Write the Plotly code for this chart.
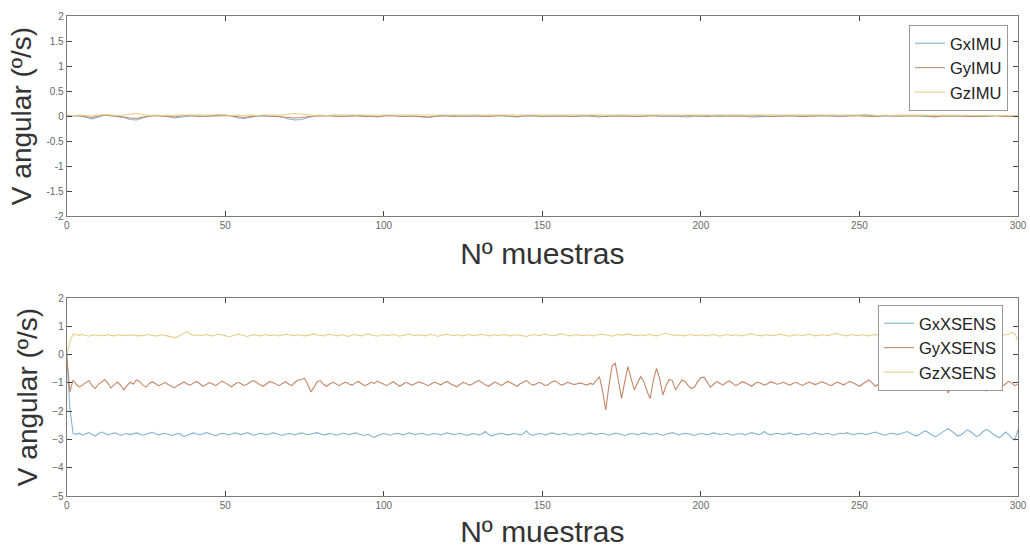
import plotly.graph_objects as go

# ---------------- DATA ----------------
x_ticks = [0, 50, 100, 150, 200, 250, 300]
y_ticks_top = [-2, -1.5, -1, -0.5, 0, 0.5, 1, 1.5, 2]
y_ticks_top_text = ["-2", "-1.5", "-1", "-0.5", "0", "0.5", "1", "1.5", "2"]
y_ticks_bot = [-5, -4, -3, -2, -1, 0, 1, 2]

imu_step = 2  # IMU samples read every 2 units of "Nº muestras"

gx_imu = [0.01, 0.00, 0.01, -0.02, -0.06, -0.02, 0.02, 0.00, -0.01, -0.03, -0.07, -0.08, -0.04, 0.00, 0.01, 0.00, -0.01, -0.04, -0.02, 0.00,
          0.01, 0.00, -0.01, 0.00, 0.01, 0.02, 0.00, -0.04, -0.05, -0.02, 0.00, 0.00, -0.01, 0.00, -0.02, -0.06, -0.08, -0.07, -0.03, 0.00,
          0.01, 0.00, 0.01, 0.00, -0.01, 0.00, 0.01, 0.00, -0.01, -0.02, 0.00, 0.01, 0.00, -0.01, 0.00, 0.00, -0.02, -0.03, -0.01, 0.00,
          0.00, 0.01, 0.00, -0.01, 0.00, 0.00, -0.01, 0.00, 0.01, 0.00, -0.01, -0.02, 0.00, 0.00, 0.01, 0.00, -0.01, 0.00, 0.00, -0.01,
          0.00, 0.01, 0.00, -0.01, -0.02, 0.00, 0.00, 0.01, 0.00, -0.01, 0.00, 0.00, 0.01, 0.00, -0.01, 0.00, 0.00, -0.01, -0.02, 0.00,
          0.00, 0.01, 0.00, -0.01, 0.00, 0.00, 0.01, 0.00, -0.02, -0.01, 0.00, 0.00, -0.01, 0.00, 0.01, 0.00, 0.00, -0.01, 0.00, 0.00,
          0.01, 0.00, -0.01, 0.00, 0.00, 0.01, 0.02, 0.00, -0.01, 0.00, 0.00, -0.01, 0.00, 0.01, 0.00, 0.00, -0.01, -0.02, 0.00, 0.00,
          0.01, 0.00, -0.01, 0.00, 0.00, -0.01, 0.00, 0.01, 0.00, -0.01, 0.00]

gy_imu = [0.00, 0.01, 0.00, -0.01, -0.03, 0.00, 0.02, 0.01, 0.00, -0.02, -0.04, -0.05, -0.02, 0.00, 0.01, 0.00, -0.01, -0.02, 0.00, 0.01,
          0.00, -0.01, 0.00, 0.01, 0.00, 0.01, 0.00, -0.02, -0.03, -0.01, 0.00, 0.01, 0.00, -0.01, -0.01, -0.03, -0.04, -0.03, -0.01, 0.00,
          0.00, 0.01, 0.00, -0.01, 0.00, 0.01, 0.00, -0.01, 0.00, -0.01, 0.00, 0.01, 0.00, 0.00, -0.01, 0.00, -0.01, -0.02, 0.00, 0.01,
          0.00, -0.01, 0.00, 0.00, 0.01, 0.00, -0.01, 0.00, 0.00, 0.01, 0.00, -0.01, 0.00, 0.01, 0.00, -0.01, 0.00, 0.00, 0.01, 0.00,
          -0.01, 0.00, 0.00, 0.01, 0.00, -0.01, 0.00, 0.00, 0.01, 0.00, -0.01, 0.00, 0.00, 0.01, 0.00, 0.00, -0.01, 0.00, 0.01, 0.00,
          0.00, -0.01, 0.00, 0.01, 0.00, 0.00, -0.01, 0.00, 0.00, 0.01, 0.00, -0.01, 0.00, 0.00, 0.01, 0.00, -0.01, 0.00, 0.00, 0.01,
          0.00, 0.00, -0.01, 0.00, 0.01, 0.00, 0.00, -0.01, 0.00, 0.01, 0.00, 0.00, -0.01, 0.00, 0.00, 0.01, 0.00, -0.01, 0.00, 0.00,
          0.01, 0.00, 0.00, -0.01, 0.00, 0.00, 0.01, 0.00, -0.01, 0.00, 0.00]

gz_imu = [0.02, 0.01, 0.02, 0.01, 0.00, 0.02, 0.03, 0.02, 0.01, 0.02, 0.04, 0.05, 0.03, 0.01, 0.02, 0.01, 0.02, 0.01, 0.02, 0.02,
          0.01, 0.02, 0.01, 0.02, 0.03, 0.02, 0.01, 0.02, 0.01, 0.02, 0.01, 0.02, 0.02, 0.01, 0.02, 0.04, 0.05, 0.04, 0.02, 0.01,
          0.02, 0.01, 0.02, 0.02, 0.01, 0.02, 0.01, 0.02, 0.01, 0.02, 0.02, 0.01, 0.02, 0.01, 0.02, 0.02, 0.01, 0.02, 0.01, 0.02,
          0.01, 0.02, 0.02, 0.01, 0.02, 0.01, 0.02, 0.02, 0.01, 0.02, 0.01, 0.02, 0.02, 0.01, 0.02, 0.02, 0.01, 0.02, 0.01, 0.02,
          0.02, 0.01, 0.02, 0.01, 0.02, 0.02, 0.01, 0.02, 0.01, 0.02, 0.02, 0.01, 0.02, 0.02, 0.01, 0.02, 0.01, 0.02, 0.02, 0.01,
          0.02, 0.01, 0.02, 0.02, 0.01, 0.02, 0.01, 0.02, 0.02, 0.01, 0.02, 0.01, 0.02, 0.02, 0.01, 0.02, 0.01, 0.02, 0.02, 0.01,
          0.02, 0.02, 0.01, 0.02, 0.01, 0.02, 0.03, 0.02, 0.01, 0.02, 0.01, 0.02, 0.02, 0.01, 0.02, 0.01, 0.02, 0.02, 0.01, 0.02,
          0.01, 0.02, 0.02, 0.01, 0.02, 0.01, 0.02, 0.02, 0.01, 0.02, 0.01]

gx_xsens = [0.00, -1.90, -2.78, -2.82, -2.78, -2.85, -2.80, -2.76, -2.83, -2.88, -2.80, -2.74, -2.78, -2.84, -2.81, -2.77, -2.80, -2.86, -2.82, -2.79,
            -2.83, -2.80, -2.77, -2.81, -2.85, -2.82, -2.78, -2.75, -2.80, -2.84, -2.81, -2.78, -2.82, -2.86, -2.83, -2.79, -2.82, -2.90, -2.85, -2.80,
            -2.77, -2.81, -2.84, -2.80, -2.76, -2.79, -2.83, -2.87, -2.82, -2.78, -2.80, -2.84, -2.81, -2.77, -2.80, -2.83, -2.79, -2.76, -2.81, -2.85,
            -2.82, -2.78, -2.80, -2.84, -2.81, -2.77, -2.79, -2.83, -2.86, -2.82, -2.79, -2.81, -2.84, -2.80, -2.77, -2.80, -2.83, -2.81, -2.78, -2.76,
            -2.80, -2.84, -2.82, -2.79, -2.81, -2.85, -2.82, -2.78, -2.80, -2.83, -2.80, -2.77, -2.81, -2.84, -2.86, -2.82, -2.89, -2.93, -2.86, -2.82,
            -2.79, -2.82, -2.85, -2.81, -2.78, -2.80, -2.84, -2.81, -2.77, -2.80, -2.83, -2.80, -2.78, -2.82, -2.85, -2.82, -2.79, -2.81, -2.84, -2.80,
            -2.77, -2.80, -2.83, -2.81, -2.78, -2.82, -2.86, -2.83, -2.79, -2.81, -2.84, -2.80, -2.72, -2.82, -2.88, -2.83, -2.80, -2.78, -2.81, -2.84,
            -2.82, -2.79, -2.81, -2.84, -2.80, -2.70, -2.82, -2.86, -2.82, -2.79, -2.81, -2.84, -2.80, -2.77, -2.80, -2.83, -2.81, -2.78, -2.82, -2.85,
            -2.82, -2.79, -2.81, -2.84, -2.80, -2.77, -2.80, -2.83, -2.80, -2.78, -2.82, -2.85, -2.81, -2.78, -2.80, -2.83, -2.86, -2.82, -2.79, -2.81,
            -2.84, -2.80, -2.77, -2.80, -2.83, -2.81, -2.78, -2.82, -2.85, -2.82, -2.79, -2.76, -2.80, -2.84, -2.81, -2.78, -2.80, -2.83, -2.86, -2.82,
            -2.79, -2.81, -2.84, -2.80, -2.77, -2.80, -2.83, -2.81, -2.78, -2.82, -2.85, -2.82, -2.79, -2.81, -2.84, -2.80, -2.76, -2.79, -2.83, -2.81,
            -2.72, -2.80, -2.84, -2.81, -2.78, -2.80, -2.83, -2.80, -2.77, -2.81, -2.84, -2.82, -2.79, -2.81, -2.84, -2.80, -2.77, -2.80, -2.83, -2.81,
            -2.78, -2.82, -2.85, -2.81, -2.78, -2.80, -2.76, -2.80, -2.84, -2.81, -2.78, -2.80, -2.83, -2.80, -2.77, -2.74, -2.78, -2.82, -2.85, -2.81,
            -2.78, -2.80, -2.83, -2.80, -2.76, -2.72, -2.78, -2.84, -2.88, -2.82, -2.74, -2.70, -2.78, -2.86, -2.90, -2.84, -2.76, -2.68, -2.62, -2.70,
            -2.80, -2.88, -2.84, -2.74, -2.66, -2.72, -2.82, -2.90, -2.84, -2.72, -2.65, -2.70, -2.80, -2.88, -2.94, -2.86, -2.74, -2.82, -2.95, -3.02,
            -2.66]

gy_xsens = [0.00, -1.32, -0.90, -1.05, -1.15, -1.08, -0.98, -0.92, -1.10, -1.20, -1.05, -0.95, -0.88, -1.02, -1.18, -1.06, -0.97, -1.08, -1.25, -1.10,
            -0.98, -1.04, -0.90, -0.95, -1.08, -1.15, -1.03, -0.96, -1.02, -1.10, -1.05, -0.98, -1.06, -1.12, -1.18, -1.09, -1.02, -0.97, -1.04, -1.08,
            -1.00, -0.95, -1.03, -1.12, -1.06, -0.99, -1.04, -1.10, -1.02, -0.94, -1.00, -1.08, -1.14, -1.05, -0.98, -1.03, -1.09, -1.04, -0.96, -0.92,
            -1.00, -1.07, -1.12, -1.03, -0.95, -0.99, -1.06, -1.10, -1.02, -0.96, -1.04, -1.10, -0.98, -0.90, -0.88, -0.84, -1.05, -1.32, -1.15, -0.96,
            -0.92, -1.05, -1.12, -1.03, -0.98, -1.05, -1.10, -1.02, -0.97, -1.04, -1.08, -1.00, -0.95, -1.03, -1.10, -1.05, -0.98, -1.02, -0.94, -1.00,
            -1.06, -1.10, -1.02, -0.96, -1.04, -1.12, -1.05, -0.98, -1.03, -1.08, -1.02, -0.96, -1.00, -1.05, -1.10, -1.03, -0.97, -1.02, -1.07, -1.00,
            -0.95, -1.03, -1.09, -1.14, -1.06, -0.98, -1.02, -1.08, -1.04, -0.96, -0.92, -1.00, -1.07, -1.12, -1.04, -0.97, -1.02, -1.09, -1.03, -0.95,
            -1.00, -1.06, -1.12, -1.03, -0.96, -0.92, -1.02, -1.08, -1.04, -0.98, -1.03, -1.10, -1.05, -0.97, -0.93, -1.01, -1.08, -1.04, -0.98, -1.02,
            -1.06, -1.03, -1.00, -1.04, -1.08, -1.02, -1.05, -0.92, -0.78, -1.30, -1.96, -1.10, -0.40, -0.31, -0.95, -1.55, -0.95, -0.43, -0.85, -1.25,
            -1.00, -0.78, -0.95, -1.30, -1.55, -0.90, -0.49, -0.85, -1.43, -1.10, -0.88, -0.92, -1.25, -1.05, -0.90, -0.95, -1.10, -1.20, -1.15, -0.95,
            -0.82, -0.80, -1.00, -1.15, -1.05, -0.95, -1.02, -1.08, -0.98, -0.93, -1.02, -1.10, -1.04, -0.96, -1.00, -1.06, -1.12, -1.03, -0.97, -1.02,
            -1.08, -1.03, -0.96, -1.00, -1.05, -1.02, -0.97, -1.03, -1.08, -1.02, -0.98, -1.04, -1.09, -1.03, -0.97, -1.01, -1.06, -1.02, -0.96, -1.00,
            -1.05, -1.10, -1.03, -0.97, -1.02, -1.07, -1.01, -0.95, -1.00, -1.06, -1.12, -1.04, -0.96, -0.90, -1.00, -1.12, -1.05, -0.92, -0.88, -1.02,
            -1.15, -1.08, -0.95, -0.90, -1.05, -1.20, -1.10, -0.94, -0.88, -1.00, -1.18, -1.12, -0.98, -1.28, -1.05, -0.90, -0.86, -1.02, -1.36, -1.10,
            -0.92, -0.88, -1.05, -1.25, -1.10, -0.95, -0.90, -1.00, -1.15, -1.05, -1.30, -1.08, -0.92, -0.88, -1.00, -1.12, -1.05, -0.95, -1.00, -1.10,
            -1.05]

gz_xsens = [0.00, 0.45, 0.72, 0.70, 0.68, 0.71, 0.67, 0.65, 0.68, 0.70, 0.66, 0.69, 0.67, 0.71, 0.68, 0.66, 0.70, 0.68, 0.67, 0.69,
            0.68, 0.70, 0.66, 0.68, 0.67, 0.69, 0.71, 0.68, 0.66, 0.67, 0.70, 0.68, 0.66, 0.64, 0.60, 0.63, 0.70, 0.74, 0.82, 0.72,
            0.68, 0.70, 0.67, 0.69, 0.71, 0.68, 0.66, 0.70, 0.72, 0.69, 0.67, 0.62, 0.66, 0.70, 0.72, 0.69, 0.67, 0.64, 0.68, 0.70,
            0.68, 0.66, 0.69, 0.71, 0.67, 0.68, 0.70, 0.66, 0.69, 0.72, 0.70, 0.68, 0.67, 0.70, 0.69, 0.66, 0.68, 0.71, 0.73, 0.69,
            0.68, 0.66, 0.70, 0.72, 0.69, 0.66, 0.68, 0.70, 0.67, 0.64, 0.69, 0.71, 0.68, 0.66, 0.70, 0.73, 0.69, 0.67, 0.65, 0.69,
            0.70, 0.67, 0.69, 0.71, 0.68, 0.65, 0.68, 0.70, 0.72, 0.69, 0.67, 0.70, 0.68, 0.66, 0.69, 0.71, 0.68, 0.64, 0.68, 0.70,
            0.72, 0.69, 0.67, 0.70, 0.68, 0.66, 0.69, 0.71, 0.68, 0.67, 0.70, 0.72, 0.69, 0.66, 0.68, 0.70, 0.67, 0.69, 0.71, 0.68,
            0.66, 0.69, 0.70, 0.68, 0.67, 0.64, 0.68, 0.70, 0.69, 0.67, 0.70, 0.72, 0.69, 0.67, 0.68, 0.70, 0.74, 0.70, 0.68, 0.66,
            0.69, 0.71, 0.68, 0.67, 0.70, 0.68, 0.66, 0.69, 0.70, 0.72, 0.70, 0.67, 0.65, 0.69, 0.71, 0.68, 0.70, 0.73, 0.70, 0.67,
            0.68, 0.70, 0.67, 0.69, 0.71, 0.68, 0.66, 0.69, 0.72, 0.76, 0.71, 0.68, 0.67, 0.70, 0.68, 0.66, 0.69, 0.71, 0.68, 0.67,
            0.70, 0.68, 0.66, 0.69, 0.71, 0.68, 0.65, 0.68, 0.71, 0.69, 0.67, 0.70, 0.68, 0.66, 0.69, 0.71, 0.74, 0.70, 0.68, 0.66,
            0.69, 0.70, 0.68, 0.67, 0.70, 0.72, 0.69, 0.67, 0.65, 0.68, 0.70, 0.69, 0.67, 0.70, 0.72, 0.69, 0.66, 0.68, 0.70, 0.69,
            0.67, 0.70, 0.72, 0.75, 0.70, 0.68, 0.66, 0.69, 0.71, 0.68, 0.67, 0.70, 0.68, 0.66, 0.69, 0.71, 0.68, 0.67, 0.70, 0.72,
            0.69, 0.67, 0.70, 0.68, 0.66, 0.69, 0.71, 0.68, 0.67, 0.70, 0.72, 0.69, 0.67, 0.68, 0.70, 0.69, 0.67, 0.70, 0.68, 0.66,
            0.69, 0.71, 0.68, 0.67, 0.70, 0.72, 0.69, 0.67, 0.68, 0.70, 0.69, 0.67, 0.70, 0.71, 0.69, 0.68, 0.70, 0.72, 0.78, 0.74,
            0.50]

# ---------------- STYLE ----------------
C_X = "#82b3cf"
C_Y = "#c38767"
C_Z = "#e5cf88"
FONT = "Liberation Sans, Arial, sans-serif"
AX_LINE = "#7a7a7a"
TICK_FONT = dict(family=FONT, size=10, color="#666666")
YTITLE_FONT = dict(family=FONT, size=28, color="#333333")
XTITLE_FONT = dict(family=FONT, size=30, color="#333333")

x_imu = [i * imu_step for i in range(len(gx_imu))]
x_xs = list(range(len(gx_xsens)))

fig = go.Figure()
for name, ys, col in [("GxIMU", gx_imu, C_X), ("GyIMU", gy_imu, C_Y), ("GzIMU", gz_imu, C_Z)]:
    fig.add_trace(go.Scatter(x=x_imu, y=ys, mode="lines", name=name,
                             line=dict(color=col, width=1.1), xaxis="x", yaxis="y", legend="legend"))
for name, ys, col in [("GxXSENS", gx_xsens, C_X), ("GyXSENS", gy_xsens, C_Y), ("GzXSENS", gz_xsens, C_Z)]:
    fig.add_trace(go.Scatter(x=x_xs, y=ys, mode="lines", name=name,
                             line=dict(color=col, width=1.1), xaxis="x2", yaxis="y2", legend="legend2"))

W, H = 1030, 548
x_dom = [66.7 / W, 1018 / W]
top_dom = [(H - 216) / H, (H - 16) / H]
bot_dom = [(H - 496) / H, (H - 298) / H]

common_x = dict(range=[0, 300], tickvals=x_ticks, ticks="inside", ticklen=5, tickcolor="#444",
                showline=True, linecolor=AX_LINE, linewidth=1, mirror="ticks", showgrid=False,
                zeroline=False, tickfont=TICK_FONT, automargin=False, domain=x_dom)
common_y = dict(ticks="inside", ticklen=5, tickcolor="#444", showline=True, linecolor=AX_LINE,
                linewidth=1, mirror="ticks", showgrid=False, zeroline=False, tickfont=TICK_FONT,
                automargin=False)

legend_style = dict(font=dict(family=FONT, size=16.5, color="#222222"), bgcolor="white",
                    bordercolor="#999999", borderwidth=1, xanchor="left", yanchor="top",
                    tracegroupgap=0, itemwidth=30)

fig.update_layout(
    width=W, height=H,
    margin=dict(l=0, r=0, t=0, b=0),
    paper_bgcolor="white", plot_bgcolor="white",
    font=dict(family=FONT),
    xaxis=dict(**common_x, anchor="y",
               title=dict(text="Nº muestras", font=XTITLE_FONT, standoff=12)),
    yaxis=dict(**common_y, domain=top_dom, anchor="x", range=[-2, 2],
               tickvals=y_ticks_top, ticktext=y_ticks_top_text,
               title=dict(text="V angular (º/s)", font=YTITLE_FONT, standoff=6)),
    xaxis2=dict(**common_x, anchor="y2",
                title=dict(text="Nº muestras", font=XTITLE_FONT, standoff=12)),
    yaxis2=dict(**common_y, domain=bot_dom, anchor="x2", range=[-5, 2],
                tickvals=y_ticks_bot,
                title=dict(text="V angular (º/s)", font=YTITLE_FONT, standoff=6)),
    legend=dict(**legend_style, x=909 / W, y=(H - 25) / H),
    legend2=dict(**legend_style, x=878 / W, y=(H - 305) / H),
    showlegend=True,
)

fig.write_html("out.html")
